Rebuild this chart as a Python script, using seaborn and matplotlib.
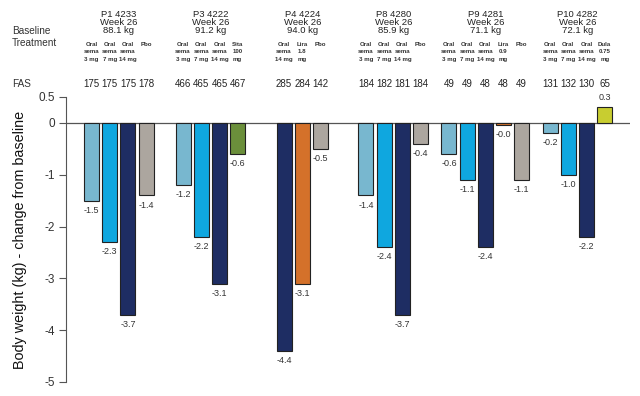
import matplotlib
matplotlib.use("Agg")
import matplotlib.pyplot as plt
import matplotlib.transforms as mtransforms
import seaborn as sns
import pandas as pd

# trial data
trials = ["P1 4233", "P3 4222", "P4 4224", "P8 4280", "P9 4281", "P10 4282"]
baseline_kg = ["88.1 kg", "91.2 kg", "94.0 kg", "85.9 kg", "71.1 kg", "72.1 kg"]
treatments = [
    ["sema3", "sema7", "sema14", "pbo"],
    ["sema3", "sema7", "sema14", "sita"],
    ["sema14", "lira18", "pbo"],
    ["sema3", "sema7", "sema14", "pbo"],
    ["sema3", "sema7", "sema14", "lira09", "pbo"],
    ["sema3", "sema7", "sema14", "dula"],
]
fas = [
    [175, 175, 175, 178],
    [466, 465, 465, 467],
    [285, 284, 142],
    [184, 182, 181, 184],
    [49, 49, 48, 48, 49],
    [131, 132, 130, 65],
]
change = [
    [-1.5, -2.3, -3.7, -1.4],
    [-1.2, -2.2, -3.1, -0.6],
    [-4.4, -3.1, -0.5],
    [-1.4, -2.4, -3.7, -0.4],
    [-0.6, -1.1, -2.4, -0.04, -1.1],
    [-0.2, -1.0, -2.2, 0.3],
]
treatment_text = {
    "sema3": ["Oral", "sema", "3 mg"],
    "sema7": ["Oral", "sema", "7 mg"],
    "sema14": ["Oral", "sema", "14 mg"],
    "pbo": ["Pbo"],
    "sita": ["Sita", "100", "mg"],
    "lira18": ["Lira", "1.8", "mg"],
    "lira09": ["Lira", "0.9", "mg"],
    "dula": ["Dula", "0.75", "mg"],
}
colors = {
    "sema3": "#78b7cf",
    "sema7": "#0fa7df",
    "sema14": "#1e2d63",
    "pbo": "#aca69f",
    "sita": "#6b8f3b",
    "lira18": "#d4712a",
    "lira09": "#d4712a",
    "dula": "#c8cd30",
}

# where each trial group starts, in bar slots
group_start = [0, 5.03, 10.58, 15.08, 19.64, 25.2]

rows = []
for i, trial in enumerate(trials):
    for j, tr in enumerate(treatments[i]):
        rows.append({"trial": trial, "pos": group_start[i] + j, "treatment": tr,
                     "change": change[i][j], "fas": fas[i][j]})
df = pd.DataFrame(rows)

sns.set_theme(style="white")
plt.rcParams["font.family"] = ["Liberation Sans", "DejaVu Sans"]
plt.rcParams["axes.unicode_minus"] = False

W, H = 640, 396
fig = plt.figure(figsize=(6.4, 3.96), dpi=100)
ax = fig.add_axes([66 / W, 1 - 382 / H, (630 - 66) / W, (382 - 97) / H])

sns.barplot(data=df, x="pos", y="change", hue="treatment", palette=colors,
            native_scale=True, dodge=False, width=0.82, errorbar=None,
            saturation=1, edgecolor="#222222", linewidth=0.8, legend=False, ax=ax)

ax.set_xlim((66 - 91.5) / 18.2, (630 - 91.5) / 18.2)
ax.set_ylim(-5, 0.5)
ax.axhline(0, color="#555555", lw=0.9, zorder=0)
ax.set_yticks([0.5, 0, -1, -2, -3, -4, -5])
ax.set_yticklabels(["0.5", "0", "-1", "-2", "-3", "-4", "-5"])
ax.set_xticks([])
ax.set_xlabel("")
ax.set_ylabel("")
ax.tick_params(axis="y", left=True, length=5, width=0.8, pad=3, labelsize=8.5,
               labelcolor="#333333", color="#555555")
for s in ["top", "right", "bottom"]:
    ax.spines[s].set_visible(False)
ax.spines["left"].set_color("#555555")
ax.spines["left"].set_linewidth(0.8)

# value labels under (or above) each bar
for _, r in df.iterrows():
    off = -7 if r["change"] < 0 else 7
    ax.annotate(f"{r['change']:.1f}", (r["pos"], r["change"]), xytext=(0, off),
                textcoords="offset points", ha="center", va="center",
                fontsize=6.5, color="#333333")

# header block above the plot
tr = mtransforms.blended_transform_factory(ax.transData, fig.transFigure)
def fy(py):
    return 1 - py / H

for i, trial in enumerate(trials):
    xs = df.loc[df["trial"] == trial, "pos"]
    xc = (xs.min() + xs.max()) / 2
    for k, line in enumerate([trial, "Week 26", baseline_kg[i]]):
        ax.text(xc, fy(16.8 + 8 * k), line, transform=tr, ha="center", va="baseline",
                fontsize=6.8, color="#222222")

for _, r in df.iterrows():
    for k, line in enumerate(treatment_text[r["treatment"]]):
        ax.text(r["pos"], fy(44 + 7.7 * k), line, transform=tr, ha="center",
                va="center", fontsize=4.4, fontweight="bold", color="#333333")
    ax.text(r["pos"], fy(84), str(r["fas"]), transform=tr, ha="center",
            va="center", fontsize=7, color="#222222")

fig.text(12 / W, fy(31), "Baseline", ha="left", va="center", fontsize=7.2, color="#333333")
fig.text(12 / W, fy(43), "Treatment", ha="left", va="center", fontsize=7.2, color="#333333")
fig.text(12 / W, fy(84), "FAS", ha="left", va="center", fontsize=7.2, color="#333333")

fig.text(20 / W, fy(240), "Body weight (kg) - change from baseline", rotation=90,
         ha="center", va="center", fontsize=10.4, color="#111111")

fig.savefig("out.png", dpi=100, facecolor="white")
